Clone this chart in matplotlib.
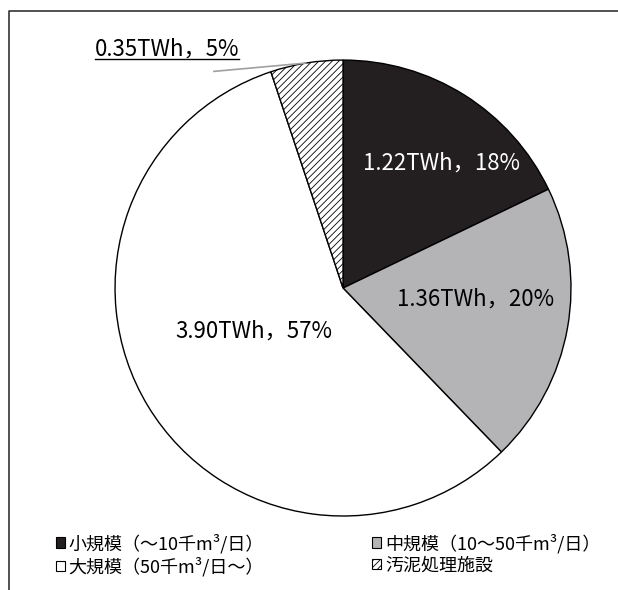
import numpy as np
import matplotlib
matplotlib.use("Agg")
import matplotlib.pyplot as plt
from matplotlib.lines import Line2D
from matplotlib.patches import Patch

plt.rcParams["font.family"] = ["Noto Sans CJK JP", "DejaVu Sans"]
plt.rcParams["hatch.linewidth"] = 0.6

# energy by plant size (TWh), clockwise from 12 o'clock
labels = ["小規模（～10千m³/日）", "中規模（10～50千m³/日）",
          "大規模（50千m³/日～）", "汚泥処理施設"]
twh = [1.22, 1.36, 3.90, 0.35]
share = [18, 20, 57, 5]

colors = ["#231f20", "#b4b4b6", "white", "white"]
hatches = [None, None, None, "/////"]
text_colors = ["white", "black", "black"]
label_pos = [(0.43, 0.55), (0.58, -0.05), (-0.39, -0.19)]

fig = plt.figure(figsize=(6.18, 5.9), dpi=100)
ax = fig.add_axes([0.0939, 0.0288, 0.9223, 0.966])

wedges, _ = ax.pie(twh, colors=colors, startangle=90, counterclock=False,
                   wedgeprops=dict(edgecolor="black", linewidth=1.0))
for w, h in zip(wedges, hatches):
    if h:
        w.set_hatch(h)
ax.set_xlim(-1.25, 1.25)
ax.set_ylim(-1.25, 1.25)
ax.set_aspect("equal")
ax.axis("off")

for (x, y), v, p, c in zip(label_pos, twh, share, text_colors):
    ax.text(x, y, f"{v:.2f}TWh，{p}%", color=c, fontsize=16,
            ha="center", va="center")

# small slice gets an outside label with a leader line
small = wedges[3]
mid = np.deg2rad((small.theta1 + small.theta2) / 2)
ax.plot([-0.57, np.cos(mid)], [0.95, np.sin(mid)], color="#a0a0a0", lw=1.2,
        solid_capstyle="butt")
t = ax.text(-1.09, 1.05, f"{twh[3]:.2f}TWh，{share[3]}%", fontsize=16,
            ha="left", va="center")

fig.canvas.draw()
bb = t.get_window_extent().transformed(fig.transFigure.inverted())
fig.add_artist(Line2D([bb.x0, bb.x1], [bb.y0 + 0.002, bb.y0 + 0.002],
                      color="black", lw=1.0, transform=fig.transFigure))

# outer frame (left and top edges)
fig.add_artist(Line2D([0.0146, 0.0146, 1.0], [0.0, 0.981, 0.981],
                      color="#333333", lw=1.2, transform=fig.transFigure))

handles = [Patch(facecolor=c, edgecolor="black", hatch=h, linewidth=0.8)
           for c, h in zip(colors, hatches)]
order = [0, 2, 1, 3]
fig.legend([handles[i] for i in order], [labels[i] for i in order],
           ncol=2, loc="upper left", bbox_to_anchor=(0.076, 0.111),
           frameon=False, fontsize=13, handlelength=0.5, handleheight=0.5,
           handletextpad=0.2, labelspacing=0.2, columnspacing=6.0,
           borderpad=0)

fig.savefig("out.png", dpi=100)
